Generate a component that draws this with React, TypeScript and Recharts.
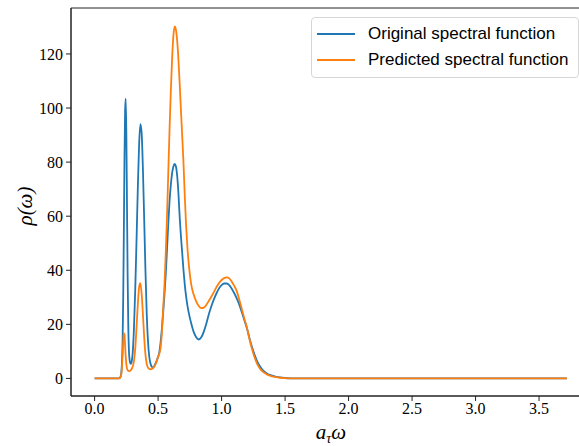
import React from 'react';
import { LineChart, Line, XAxis, YAxis, ReferenceArea, Label } from 'recharts';

const omega = [
  0, 0.05, 0.1, 0.15, 0.19, 0.195, 0.2, 0.205, 0.21, 0.215,
  0.22, 0.225, 0.23, 0.235, 0.24, 0.245, 0.25, 0.255, 0.26, 0.265,
  0.27, 0.275, 0.28, 0.285, 0.29, 0.295, 0.30, 0.31, 0.32, 0.33,
  0.34, 0.35, 0.36, 0.37, 0.38, 0.39, 0.40, 0.41, 0.42, 0.43,
  0.44, 0.45, 0.46, 0.47, 0.48, 0.49, 0.50, 0.51, 0.52, 0.53,
  0.54, 0.55, 0.56, 0.57, 0.58, 0.59, 0.60, 0.61, 0.62, 0.63,
  0.64, 0.65, 0.66, 0.67, 0.68, 0.69, 0.70, 0.71, 0.72, 0.73,
  0.74, 0.75, 0.76, 0.78, 0.80, 0.82, 0.84, 0.86, 0.88, 0.90,
  0.92, 0.94, 0.96, 0.98, 1.00, 1.02, 1.04, 1.06, 1.08, 1.10,
  1.12, 1.14, 1.16, 1.18, 1.20, 1.22, 1.24, 1.26, 1.28, 1.30,
  1.32, 1.34, 1.36, 1.38, 1.40, 1.43, 1.46, 1.50, 1.55, 1.60,
  1.70, 2.0, 2.5, 3.0, 3.5, 3.72,
];

const original = [
  0, 0, 0, 0, 0, 0.05, 0.3, 0.8, 2, 5.5,
  13, 29, 53, 80, 99, 103.5, 90, 64, 38, 20,
  10.5, 7, 5.8, 5.4, 5.8, 7.2, 9.5, 18.8, 33, 51,
  70, 86, 94, 91, 78, 59.5, 40.5, 24.5, 14, 8.2,
  5.5, 4.3, 4, 4.6, 5.6, 6.7, 8, 9.8, 13.5, 18.5,
  24.5, 31, 38.5, 47.5, 57, 65.5, 71.5, 75.8, 78.3, 79.3,
  78.5, 75, 68.5, 59.5, 52.5, 46.3, 40, 34.7, 30.5, 27.2,
  24.6, 22.4, 20.5, 17.2, 15.2, 14.4, 15.2, 17.3, 20.3, 23.8,
  26.8, 29.3, 31.5, 33.3, 34.5, 35.1, 35.1, 34.5, 33.2, 31.5,
  29.5, 27.2, 24.4, 21.4, 18.5, 14.8, 11.5, 8.7, 6.3, 4.6,
  3.3, 2.4, 1.7, 1.3, 1.0, 0.6, 0.35, 0.15, 0.05, 0.02,
  0, 0, 0, 0, 0, 0,
];

const predicted = [
  0, 0, 0, 0, 0, 0.05, 0.2, 0.6, 1.5, 4,
  8.3, 13.3, 16.7, 16.3, 12.3, 8, 5.2, 3.7, 3.1, 2.8,
  2.7, 2.7, 2.8, 3.0, 3.4, 3.8, 4.4, 6.5, 11.1, 18.9,
  27.2, 33.6, 35.2, 31.5, 24, 15.5, 9, 5.5, 4, 3.5,
  3.4, 3.5, 3.8, 4.4, 5.3, 6.5, 8, 9.2, 11.5, 17,
  26, 34.5, 46, 59.8, 76, 92, 106, 118, 126.5, 130.2,
  129, 125, 118, 109, 99, 89.5, 79.5, 67.5, 57, 49,
  43, 38.5, 35, 31, 28.5, 26.8, 26, 26.2, 27.2, 28.7,
  30.3, 32, 33.8, 35.3, 36.4, 37.1, 37.4, 37, 35.8, 34.2,
  32.2, 29, 25.5, 22, 18.7, 14.5, 10.8, 7.8, 5.4, 3.8,
  2.7, 2, 1.4, 1.0, 0.75, 0.45, 0.25, 0.1, 0.03, 0,
  0, 0, 0, 0, 0, 0,
];

const xTicks = [0, 0.5, 1.0, 1.5, 2.0, 2.5, 3.0, 3.5];
const yTicks = [0, 20, 40, 60, 80, 100, 120];
const xDomain = [-0.186, 3.906];
const yDomain = [-6.5, 137];

const seriesNames = ['Original spectral function', 'Predicted spectral function'];
const seriesColors = ['#1f77b4', '#ff7f0e'];

const data = omega.map((w, i) => ({ w, original: original[i], predicted: predicted[i] }));

const serif = '"Liberation Serif", "DejaVu Serif", serif';
const sans = '"Liberation Sans", "DejaVu Sans", sans-serif';

const LegendBox = () => (
  <div
    style={{
      position: 'absolute',
      top: 17,
      left: 311,
      border: '1px solid #d6d6d6',
      borderRadius: 4,
      background: 'rgba(255,255,255,0.85)',
      padding: '3px 0 4px 0',
      boxSizing: 'border-box',
      width: 268,
    }}
  >
    {seriesNames.map((n, i) => (
      <div key={n} style={{ display: 'flex', alignItems: 'center', height: 26 }}>
        <div style={{ width: 38, height: 0, borderTop: `2px solid ${seriesColors[i]}`, marginLeft: 5, marginRight: 13 }} />
        <span style={{ fontFamily: sans, fontSize: 17, color: '#000', whiteSpace: 'nowrap' }}>{n}</span>
      </div>
    ))}
  </div>
);

const XLabel = (props: any) => {
  const vb = props.viewBox;
  const cx = vb.x + vb.width / 2;
  const cy = vb.y + 43;
  return (
    <text x={cx} y={cy} textAnchor="middle" fontFamily={serif} fontSize={21} fill="#000" fontStyle="italic">
      <tspan>a</tspan>
      <tspan dy={4} fontSize={14}>τ</tspan>
      <tspan dy={-4}>ω</tspan>
    </text>
  );
};

const YLabel = (props: any) => {
  const vb = props.viewBox;
  const cx = vb.x + 32;
  const cy = vb.y + vb.height / 2 + 4;
  return (
    <text
      x={cx}
      y={cy}
      transform={`rotate(-90, ${cx}, ${cy})`}
      textAnchor="middle"
      fontFamily={serif}
      fontSize={21}
      fill="#000"
      fontStyle="italic"
    >
      ρ(ω)
    </text>
  );
};

export default function App() {
  return (
    <div style={{ position: 'absolute', left: 0, top: 0, width: 579, height: 446, overflow: 'hidden', background: '#fff' }}>
      <LineChart width={600} height={446} data={data} margin={{ top: 8, right: 9.4, bottom: 0, left: 0 }}>
        <XAxis
          dataKey="w"
          type="number"
          domain={xDomain}
          ticks={xTicks}
          allowDataOverflow
          height={50}
          tickSize={5}
          tickMargin={2}
          tickFormatter={(v: number) => v.toFixed(1)}
          tick={{ fill: '#000', fontSize: 16, fontFamily: serif }}
          stroke="#222"
          tickLine={{ stroke: '#222' }}
        >
          <Label content={<XLabel />} />
        </XAxis>
        <YAxis
          type="number"
          domain={yDomain}
          ticks={yTicks}
          allowDataOverflow
          width={71}
          tickSize={5}
          tickMargin={3}
          tick={{ fill: '#000', fontSize: 16, fontFamily: serif }}
          stroke="#222"
          tickLine={{ stroke: '#222' }}
        >
          <Label content={<YLabel />} />
        </YAxis>
        <ReferenceArea
          x1={xDomain[0]}
          x2={xDomain[1]}
          y1={yDomain[0]}
          y2={yDomain[1]}
          fill="none"
          stroke="#222"
          strokeWidth={1}
          ifOverflow="visible"
        />
        <Line
          type="monotone"
          dataKey="original"
          name={seriesNames[0]}
          stroke={seriesColors[0]}
          strokeWidth={1.8}
          dot={false}
          isAnimationActive={false}
        />
        <Line
          type="monotone"
          dataKey="predicted"
          name={seriesNames[1]}
          stroke={seriesColors[1]}
          strokeWidth={1.8}
          dot={false}
          isAnimationActive={false}
        />
      </LineChart>
      <LegendBox />
    </div>
  );
}
